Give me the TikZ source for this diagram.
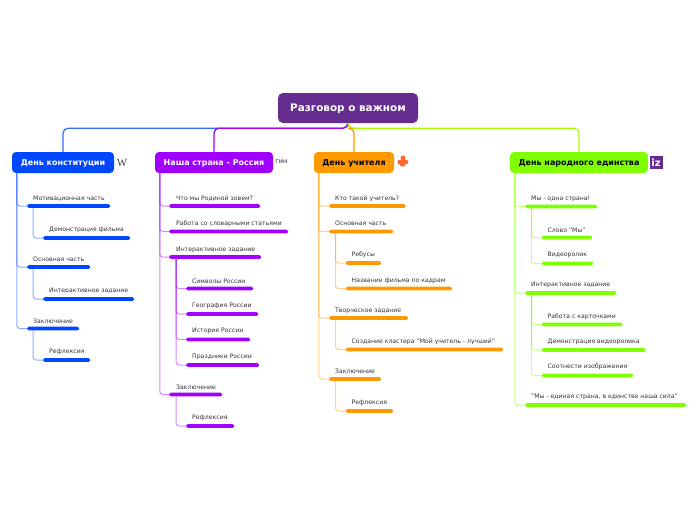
\documentclass[tikz,border=0pt]{standalone}
\usepackage{fontspec}
\setmainfont{DejaVu Sans}
\newfontfamily\serifw{Liberation Serif}
\usetikzlibrary{positioning}
\definecolor{rootcol}{HTML}{662D91}
\definecolor{bluecol}{HTML}{0047FF}
\definecolor{purplecol}{HTML}{A000FF}
\definecolor{orangecol}{HTML}{FF9900}
\definecolor{greencol}{HTML}{80FF00}
\definecolor{iconcol}{HTML}{FF6A33}
\tikzset{
	x=1pt,y=-1pt,
	topic/.style={rounded corners=4pt,minimum height=21pt,inner sep=0pt,text height=5.8pt,text depth=0pt,font=\bfseries\fontsize{8}{9}\selectfont},
	mainlink/.style={line width=1.3pt,rounded corners=5pt},
	itemtext/.style={anchor=west,inner sep=0pt,yshift=-0.7pt,text=black!80,font=\fontsize{6.15}{7}\selectfont},
	bar/.style={anchor=west,fill=#1,rounded corners=1.5pt,minimum height=3.6pt,inner sep=0pt},
	sub/.style={draw=#1,opacity=.45,line width=1pt,rounded corners=3pt},
}
\begin{document}
\begin{tikzpicture}
	\useasboundingbox (0,0) rectangle (696,520);
	\node[topic,fill=rootcol,text=white,minimum width=140pt,minimum height=30pt,rounded corners=5pt,text height=7.5pt,font=\bfseries\fontsize{10.4}{11}\selectfont] (root) at (348,108) {Разговор о важном};
	\node[topic,fill=bluecol,text=white,minimum width=102pt] (dk) at (63,162.5) {День конституции};
	\node[topic,fill=purplecol,text=white,minimum width=118pt] (ns) at (214,162.5) {Наша страна - Россия};
	\node[topic,fill=orangecol,minimum width=80pt] (du) at (354,162.5) {День учителя};
	\node[topic,fill=greencol,minimum width=138pt] (de) at (579,162.5) {День народного единства};
	\draw[mainlink,draw=bluecol!80!white] (root.south) -- ++(0,5) -| (dk.north);
	\draw[mainlink,draw=purplecol] (root.south) -- ++(0,5) -| (ns.north);
	\draw[mainlink,draw=orangecol] (root.south) -- ++(0,5) -| (du.north);
	\draw[mainlink,draw=greencol!70!yellow] (root.south) -- ++(0,5) -| (de.north);
	% icons
	\node[inner sep=0pt,text=black!75,font=\serifw\fontsize{11}{11}\selectfont] (iconw) at (122,163) {W};
	\node[inner sep=0pt,text=black!85,font=\fontsize{6.6}{7}\selectfont] (icong) at (281.5,161.5) {гин};
	\fill[iconcol] (403,158) circle (2.6);
	\fill[iconcol] (402.5,163.5) circle (3.2);
	\fill[iconcol,rounded corners=1pt] (397.5,160) rectangle (408,164);
	\node[fill=rootcol,text=white,inner sep=0pt,minimum width=13pt,minimum height=13pt,font=\bfseries\fontsize{10}{10}\selectfont] (iconz) at (656,162.5) {iz};
	% first branch
	\node[bar=bluecol,minimum width=83pt] (b1) at (27,206) {};
	\node[itemtext] (b1t) at (33,198) {Мотивационная часть};
	\node[bar=bluecol,minimum width=87pt] (b2) at (43,238) {};
	\node[itemtext] (b2t) at (49,229.5) {Демонстрация фильма};
	\node[bar=bluecol,minimum width=63pt] (b3) at (27,267) {};
	\node[itemtext] (b3t) at (33,259) {Основная часть};
	\node[bar=bluecol,minimum width=91pt] (b4) at (43,299) {};
	\node[itemtext] (b4t) at (49,290.5) {Интерактивное задание};
	\node[bar=bluecol,minimum width=52pt] (b5) at (27,328.5) {};
	\node[itemtext] (b5t) at (33,320.5) {Заключение};
	\node[bar=bluecol,minimum width=47pt] (b6) at (43,360) {};
	\node[itemtext] (b6t) at (49,351.5) {Рефлексия};
	\draw[sub=bluecol] ([xshift=5pt]dk.south west) |- (b1.west);
	\draw[sub=bluecol] ([xshift=5pt]dk.south west) |- (b3.west);
	\draw[sub=bluecol] ([xshift=5pt]dk.south west) |- (b5.west);
	\draw[sub=bluecol] ([xshift=6pt]b1.south west) |- (b2.west);
	\draw[sub=bluecol] ([xshift=6pt]b3.south west) |- (b4.west);
	\draw[sub=bluecol] ([xshift=6pt]b5.south west) |- (b6.west);
	% second branch
	\node[bar=purplecol,minimum width=91pt] (p1) at (169,206) {};
	\node[itemtext] (p1t) at (176,198) {Что мы Родиной зовем?};
	\node[bar=purplecol,minimum width=119pt] (p2) at (169,231.5) {};
	\node[itemtext] (p2t) at (176,223.5) {Работа со словарными статьями};
	\node[bar=purplecol,minimum width=92pt] (p3) at (169,257) {};
	\node[itemtext] (p3t) at (176,249) {Интерактивное задание};
	\node[bar=purplecol,minimum width=67pt] (p4) at (186,288.5) {};
	\node[itemtext] (p4t) at (192,280.5) {Символы России};
	\node[bar=purplecol,minimum width=72pt] (p5) at (186,314) {};
	\node[itemtext] (p5t) at (192,305.5) {География России};
	\node[bar=purplecol,minimum width=64pt] (p6) at (186,339.5) {};
	\node[itemtext] (p6t) at (192,330.5) {История России};
	\node[bar=purplecol,minimum width=73pt] (p7) at (186,365) {};
	\node[itemtext] (p7t) at (192,356.5) {Праздники России};
	\node[bar=purplecol,minimum width=53pt] (p8) at (169,394.5) {};
	\node[itemtext] (p8t) at (176,386.5) {Заключение};
	\node[bar=purplecol,minimum width=48pt] (p9) at (186,426) {};
	\node[itemtext] (p9t) at (192,417.5) {Рефлексия};
	\draw[sub=purplecol] ([xshift=5pt]ns.south west) |- (p1.west);
	\draw[sub=purplecol] ([xshift=5pt]ns.south west) |- (p2.west);
	\draw[sub=purplecol] ([xshift=5pt]ns.south west) |- (p3.west);
	\draw[sub=purplecol] ([xshift=5pt]ns.south west) |- (p8.west);
	\draw[sub=purplecol] ([xshift=7pt]p3.south west) |- (p4.west);
	\draw[sub=purplecol] ([xshift=7pt]p3.south west) |- (p5.west);
	\draw[sub=purplecol] ([xshift=7pt]p3.south west) |- (p6.west);
	\draw[sub=purplecol] ([xshift=7pt]p3.south west) |- (p7.west);
	\draw[sub=purplecol] ([xshift=7pt]p8.south west) |- (p9.west);
	% third branch
	\node[bar=orangecol,minimum width=76.5pt] (o1) at (329,206) {};
	\node[itemtext] (o1t) at (335,198) {Кто такой учитель?};
	\node[bar=orangecol,minimum width=64pt] (o2) at (329,231.5) {};
	\node[itemtext] (o2t) at (335,223) {Основная часть};
	\node[bar=orangecol,minimum width=35.5pt] (o3) at (345.5,263) {};
	\node[itemtext] (o3t) at (351.5,254.5) {Ребусы};
	\node[bar=orangecol,minimum width=106.5pt] (o4) at (345.5,288.5) {};
	\node[itemtext] (o4t) at (351.5,280.5) {Название фильма по кадрам};
	\node[bar=orangecol,minimum width=79pt] (o5) at (329,318) {};
	\node[itemtext] (o5t) at (335,310.5) {Творческое задание};
	\node[bar=orangecol,minimum width=157.5pt] (o6) at (345.5,349.5) {};
	\node[itemtext] (o6t) at (351.5,341.5) {Создание кластера "Мой учитель - лучший"};
	\node[bar=orangecol,minimum width=52pt] (o7) at (329,379) {};
	\node[itemtext] (o7t) at (335,371) {Заключение};
	\node[bar=orangecol,minimum width=47.5pt] (o8) at (345.5,411) {};
	\node[itemtext] (o8t) at (351.5,402.5) {Рефлексия};
	\draw[sub=orangecol] ([xshift=5pt]du.south west) |- (o1.west);
	\draw[sub=orangecol] ([xshift=5pt]du.south west) |- (o2.west);
	\draw[sub=orangecol] ([xshift=5pt]du.south west) |- (o5.west);
	\draw[sub=orangecol] ([xshift=5pt]du.south west) |- (o7.west);
	\draw[sub=orangecol] ([xshift=6.5pt]o2.south west) |- (o3.west);
	\draw[sub=orangecol] ([xshift=6.5pt]o2.south west) |- (o4.west);
	\draw[sub=orangecol] ([xshift=6.5pt]o5.south west) |- (o6.west);
	\draw[sub=orangecol] ([xshift=6.5pt]o7.south west) |- (o8.west);
	% fourth branch
	\node[bar=greencol,minimum width=72pt] (g1) at (525,206.5) {};
	\node[itemtext] (g1t) at (531,198) {Мы - одна страна!};
	\node[bar=greencol,minimum width=50.5pt] (g2) at (541.5,237.5) {};
	\node[itemtext] (g2t) at (547.5,229.5) {Слово "Мы"};
	\node[bar=greencol,minimum width=51.5pt] (g3) at (541.5,263.5) {};
	\node[itemtext] (g3t) at (547.5,254.5) {Видеоролик};
	\node[bar=greencol,minimum width=91pt] (g4) at (525,293) {};
	\node[itemtext] (g4t) at (531,284.5) {Интерактивное задание};
	\node[bar=greencol,minimum width=80.5pt] (g5) at (541.5,324.5) {};
	\node[itemtext] (g5t) at (547.5,316.5) {Работа с карточками};
	\node[bar=greencol,minimum width=104pt] (g6) at (541.5,350) {};
	\node[itemtext] (g6t) at (547.5,341.5) {Демонстрация видеоролика};
	\node[bar=greencol,minimum width=91.5pt] (g7) at (541.5,375.5) {};
	\node[itemtext] (g7t) at (547.5,366.5) {Соотнести изображения};
	\node[bar=greencol,minimum width=161pt] (g8) at (525,405) {};
	\node[itemtext] (g8t) at (531,396.5) {"Мы - единая страна, в единстве наша сила"};
	\draw[sub=greencol] ([xshift=5pt]de.south west) |- (g1.west);
	\draw[sub=greencol] ([xshift=5pt]de.south west) |- (g4.west);
	\draw[sub=greencol] ([xshift=5pt]de.south west) |- (g8.west);
	\draw[sub=greencol] ([xshift=6.5pt]g1.south west) |- (g2.west);
	\draw[sub=greencol] ([xshift=6.5pt]g1.south west) |- (g3.west);
	\draw[sub=greencol] ([xshift=6.5pt]g4.south west) |- (g5.west);
	\draw[sub=greencol] ([xshift=6.5pt]g4.south west) |- (g6.west);
	\draw[sub=greencol] ([xshift=6.5pt]g4.south west) |- (g7.west);
\end{tikzpicture}
\end{document}
